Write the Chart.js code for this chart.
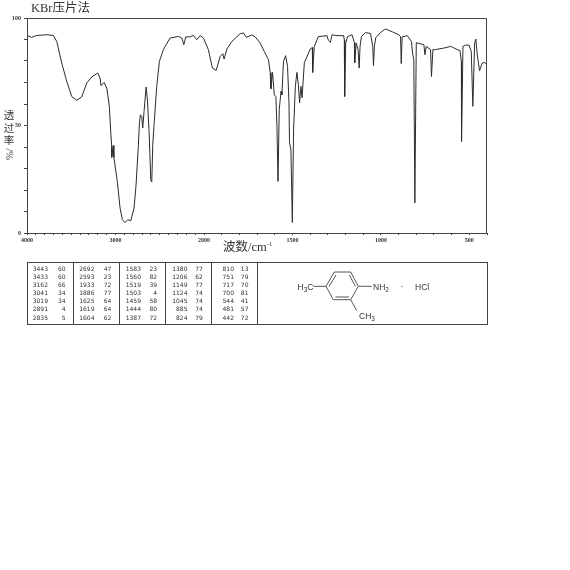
<!DOCTYPE html>
<html>
<head>
<meta charset="utf-8">
<script src="https://cdn.jsdelivr.net/npm/chart.js@4"></script>
<style>
body { margin: 0; background: #fff; }
#wrap { position: relative; width: 570px; height: 570px; overflow: hidden; }
canvas { position: absolute; left: 0; top: 0; }
.lbl { position: absolute; color: #333; font-family: "Liberation Serif", "Noto Sans CJK SC", serif; white-space: nowrap; line-height: 1; }
.stack { width: 12px; text-align: center; font-size: 10.5px; white-space: normal; }
.stack span { display: block; height: 12.5px; line-height: 12.5px; }
.cell { position: absolute; color: #333; font: 6px "DejaVu Sans", sans-serif; line-height: 1; text-align: right; }
sup { font-size: 6.5px; vertical-align: 5px; line-height: 0; }
</style>
</head>
<body>
<div id="wrap">
  <canvas id="irchart" width="570" height="570"></canvas>
  <div class="lbl" style="left:31px;top:2px;font-size:12.5px">KBr压片法</div>
  <div class="lbl stack" style="left:3px;top:110px"><span>透</span><span>过</span><span>率</span><span style="transform:rotate(90deg)">/%</span></div>
  <div class="lbl" style="left:223px;top:241px;font-size:12.5px">波数/cm<sup>-1</sup></div>
  <div id="peaks"></div>
  <svg style="position:absolute;left:0;top:0" width="570" height="570" font-family="Liberation Sans, sans-serif" font-size="8.5" fill="#333">
    <g fill="none" stroke="#444" stroke-width="1" shape-rendering="crispEdges">
      <rect x="27.5" y="262.5" width="460" height="61.5"/>
      <path d="M73.5 262V324M119.5 262V324M165.5 262V324M211.5 262V324M257.5 262V324"/>
    </g>
    <g fill="none" stroke="#555" stroke-width="1">
      <path d="M334.3 272H350.7L358.3 286.3L350.7 299.7H333.3L326 286.3Z"/>
      <path d="M336 275L329 286.5M349.3 275L355.4 286.3M335.5 297H349"/>
      <path d="M313.3 286.3H326M358.3 286.3H371.7M350.7 299.7L356.7 310.7"/>
    </g>
    <text x="297.5" y="290">H<tspan font-size="6.5" dy="2">3</tspan><tspan dy="-2">C</tspan></text>
    <text x="373" y="289.5">NH<tspan font-size="6.5" dy="2">2</tspan></text>
    <text x="400.5" y="289">·</text>
    <text x="415" y="289.5">HCl</text>
    <text x="359" y="319">CH<tspan font-size="6.5" dy="2">3</tspan></text>
  </svg>
</div>
<script>
// spectrum (cm-1, %T)
const wavenumbers = [3997,3947,3890,3777,3703,3664,3608,3551,3495,3438,3382,3325,3269,3201,3175,3164,3130,3099,3070,3054,
  3043,3043,3025,3019,2980,2949,2923,2893,2862,2828,2791,2768,2742,2731,2720,2704,2693,2678,2655,2640,2621,2602,2591,2580,2565,
  2535,2505,2460,2384,2290,2252,2229,2207,2158,2121,2083,2045,2008,1976,1953,1932,1909,1894,1887,1871,1843,1796,1777,1762,1730,
  1711,1683,1660,1636,1626,1622,1613,1603,1594,1588,1582,1575,1565,1560,1551,1539,1528,1520,1517,1509,1501,1494,1484,1475,1467,
  1460,1452,1446,1433,1399,1388,1386,1382,1377,1354,1305,1297,1286,1276,1248,1211,1207,1205,1199,1188,1163,1150,1148,1140,1129,
  1123,1118,1110,1088,1059,1046,1042,1037,1029,1003,974,936,899,889,885,880,851,827,821,814,808,800,757,751,744,719,714,706,691,
  644,606,568,553,545,544,536,521,502,489,480,470,463,455,442,427,413,400];
const transmittance = [91.8,91,91.9,92.2,91.9,89.1,79.1,70.5,63.5,61.7,63.3,69.8,72.6,74.4,72.1,68.5,70,67.4,58.9,46.6,
  40.3,35.2,40.7,35.2,24,11.6,6.2,4.8,6.2,5.7,11.6,22.5,41,50.4,55,54.2,48.8,56.6,67.9,62,46.7,24.8,23.7,41,50.4,
  68.2,79.8,85.3,90.7,91.4,90.7,87.6,91.2,91.2,91.9,89.9,91.8,90.7,85.3,76.7,75.6,82.1,83.4,80.9,85.6,89.1,92.7,93,91,92.1,
  91.2,88.4,84.5,80.6,74.6,67.1,74.7,64.3,63.5,49.6,24,57.3,65.9,64.3,79.8,82.5,77.5,60.6,42,38.7,4.9,48,68.2,74.7,69,
  60.6,68.2,62.9,79.2,85.7,86.2,74.7,80,86.8,91.3,91.8,89.6,88.7,92.2,91.8,91.8,89.9,63.5,88.4,91.4,92.2,88.5,79.2,88.4,85.3,
  76.7,86.8,91.4,93.2,92.8,86.8,77.8,86.8,90.8,93.2,94.9,93.6,92.2,91.4,78.8,91.2,91.8,89.1,83.7,80.6,14,88.5,87.6,82.9,86.8,85.3,72.8,85.3,85.3,
  86,86.8,85.3,84.9,79.8,42.6,86.8,87.4,87.4,84.5,58.9,88.4,90.2,82.9,75.5,79.1,79.3,78.3];

const xTickLabels = [4000,3000,2000,1500,1000,500];
const yTickLabels = [0,50,100];

// peak table, column by column
const peakWavenumbers = [3443,3433,3162,3041,3019,2891,2835, 2692,2593,1933,1886,1625,1619,1604, 1583,1560,1519,1503,1459,1444,1387, 1380,1206,1149,1124,1045,885,824, 810,751,717,700,544,481,442];
const peakValues = [60,60,66,34,34,4,5, 47,23,72,77,64,64,62, 23,82,39,4,58,80,72, 77,62,77,74,74,74,79, 13,79,70,81,41,57,72];

// the axis is compressed above 2000 cm-1, so the pixel mapping has a knee there
class IrScale extends Chart.LinearScale {
  getPixelForValue(v) {
    const f = v >= 2000 ? (4000 - v) / 2000 * 0.385 : 0.385 + (2000 - v) / 1600 * 0.615;
    return this.left + f * this.width;
  }
  getValueForPixel(p) {
    const f = (p - this.left) / this.width;
    return f <= 0.385 ? 4000 - f / 0.385 * 2000 : 2000 - (f - 0.385) / 0.615 * 1600;
  }
}
IrScale.id = 'irScale';
IrScale.defaults = Chart.LinearScale.defaults;
Chart.register(IrScale);

const frame = {
  id: 'frame',
  afterDraw(chart) {
    const a = chart.chartArea, c = chart.ctx;
    c.save();
    c.strokeStyle = '#444';
    c.lineWidth = 1;
    c.beginPath();
    c.moveTo(a.left, a.top + 0.5);
    c.lineTo(a.right - 0.5, a.top + 0.5);
    c.lineTo(a.right - 0.5, a.bottom);
    c.stroke();
    c.restore();
  }
};

const tickFont = { family: '"Liberation Serif", serif', size: 6, weight: 'bold' };

new Chart(document.getElementById('irchart').getContext('2d'), {
  type: 'line',
  data: {
    datasets: [{
      data: wavenumbers.map((w, i) => ({ x: w, y: transmittance[i] })),
      borderColor: '#2b2b2b',
      borderWidth: 1,
      pointRadius: 0,
      tension: 0
    }]
  },
  options: {
    responsive: false,
    animation: false,
    layout: { padding: { top: 18, right: 83, bottom: 325, left: 0 } },
    plugins: { legend: { display: false }, tooltip: { enabled: false } },
    scales: {
      x: {
        type: 'irScale',
        min: 400,
        max: 4000,
        afterFit: s => { s.height = 12; },
        border: { color: '#444' },
        grid: { drawOnChartArea: false, tickLength: 2, color: '#444' },
        ticks: {
          stepSize: 100,
          autoSkip: false,
          maxRotation: 0,
          padding: 2,
          color: '#333',
          font: tickFont,
          callback: v => xTickLabels.includes(v) ? String(v) : ''
        }
      },
      y: {
        min: 0,
        max: 100,
        afterFit: s => { s.width = 27; },
        border: { color: '#444' },
        grid: { drawOnChartArea: false, tickLength: 3, color: '#444' },
        ticks: {
          stepSize: 10,
          autoSkip: false,
          padding: 3,
          color: '#333',
          font: tickFont,
          callback: v => yTickLabels.includes(v) ? String(v) : ''
        }
      }
    }
  },
  plugins: [frame]
});

const peaks = document.getElementById('peaks');
peakWavenumbers.forEach((w, i) => {
  const col = Math.floor(i / 7), row = i % 7;
  const top = 265.7 + row * 8.15;
  [[w, 48 + col * 46.5, 22], [peakValues[i], 65.7 + col * 45.7, 14]].forEach(([text, right, width]) => {
    const d = document.createElement('div');
    d.className = 'cell';
    d.textContent = text;
    d.style.left = (right - width) + 'px';
    d.style.width = width + 'px';
    d.style.top = top + 'px';
    peaks.appendChild(d);
  });
});
</script>
</body>
</html>
